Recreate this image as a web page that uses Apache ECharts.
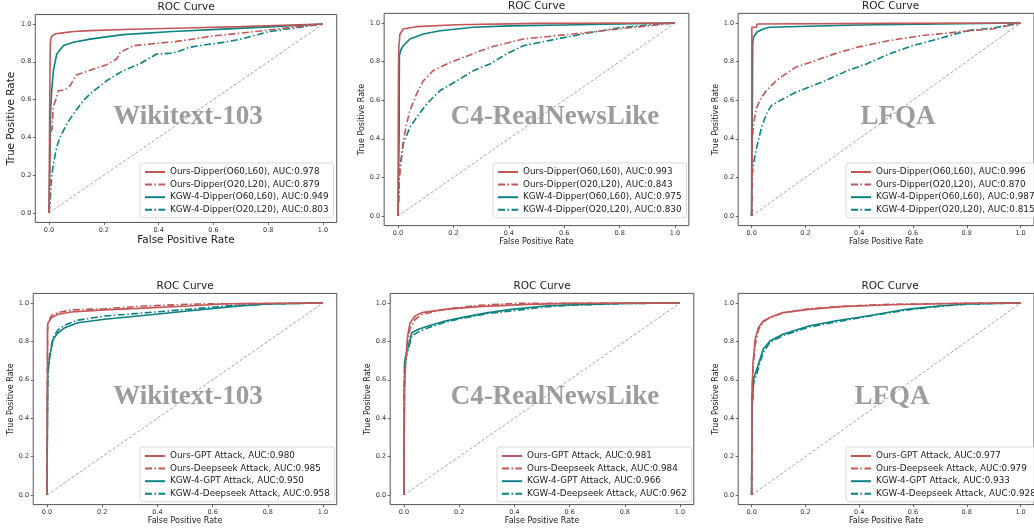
<!DOCTYPE html>
<html><head><meta charset="utf-8">
<script src="https://cdn.jsdelivr.net/npm/echarts@6/dist/echarts.min.js"></script>
<style>html,body{margin:0;padding:0;background:#fff}#c{width:1034px;height:529px}</style>
</head><body><div id="c"></div>
<script>
// ---- data ----
const dipperNames = ['Ours-Dipper(O60,L60)', 'Ours-Dipper(O20,L20)', 'KGW-4-Dipper(O60,L60)', 'KGW-4-Dipper(O20,L20)'];
const attackNames = ['Ours-GPT Attack', 'Ours-Deepseek Attack', 'KGW-4-GPT Attack', 'KGW-4-Deepseek Attack'];
const datasetNames = ['Wikitext-103', 'C4-RealNewsLike', 'LFQA', 'Wikitext-103', 'C4-RealNewsLike', 'LFQA'];
const aucWikiDipper = ['0.978', '0.879', '0.949', '0.803'];
const aucC4Dipper = ['0.993', '0.843', '0.975', '0.830'];
const aucLfqaDipper = ['0.996', '0.870', '0.987', '0.815'];
const aucWikiAttack = ['0.980', '0.985', '0.950', '0.958'];
const aucC4Attack = ['0.981', '0.984', '0.966', '0.962'];
const aucLfqaAttack = ['0.977', '0.979', '0.933', '0.928'];
const xTicks = [0, 0.2, 0.4, 0.6, 0.8, 1.0];
const yTicks = [0, 0.2, 0.4, 0.6, 0.8, 1.0];
const chance = [[0, 0], [1, 1]];

// Panel 1: Wikitext-103, Dipper
const wikiOurs60 = [[0,0],[0.002,0.45],[0.004,0.8],[0.005,0.9],[0.008,0.93],[0.015,0.942],[0.025,0.948],[0.05,0.953],[0.09,0.96],[0.15,0.965],[0.3,0.972],[0.5,0.979],[0.7,0.986],[0.85,0.993],[1,1]];
const wikiOurs20 = [[0,0],[0.003,0.1],[0.004,0.3],[0.005,0.42],[0.012,0.45],[0.015,0.56],[0.025,0.6],[0.034,0.647],[0.058,0.652],[0.077,0.674],[0.1,0.73],[0.15,0.755],[0.21,0.785],[0.247,0.815],[0.26,0.85],[0.308,0.885],[0.393,0.898],[0.45,0.905],[0.515,0.918],[0.6,0.937],[0.7,0.952],[0.8,0.968],[0.9,0.985],[1,1]];
const wikiKgw60 = [[0,0],[0.004,0.35],[0.006,0.55],[0.01,0.647],[0.016,0.753],[0.028,0.84],[0.052,0.885],[0.089,0.903],[0.15,0.92],[0.27,0.944],[0.45,0.96],[0.636,0.973],[0.8,0.985],[1,1]];
const wikiKgw20 = [[0,0],[0.004,0.05],[0.008,0.17],[0.016,0.26],[0.028,0.348],[0.04,0.40],[0.065,0.471],[0.089,0.524],[0.125,0.594],[0.15,0.63],[0.21,0.70],[0.27,0.753],[0.33,0.788],[0.393,0.841],[0.45,0.845],[0.515,0.877],[0.57,0.89],[0.636,0.903],[0.70,0.92],[0.8,0.959],[0.9,0.98],[1,1]];
// Panel 2: C4-RealNewsLike, Dipper
const c4Ours60 = [[0,0],[0.001,0.5],[0.002,0.8],[0.003,0.874],[0.007,0.943],[0.019,0.969],[0.067,0.981],[0.21,0.991],[0.5,0.998],[1,1]];
const c4Ours20 = [[0,0],[0.002,0.08],[0.004,0.183],[0.013,0.304],[0.019,0.39],[0.031,0.477],[0.043,0.546],[0.067,0.632],[0.091,0.70],[0.127,0.753],[0.176,0.788],[0.236,0.822],[0.332,0.874],[0.452,0.917],[0.633,0.943],[0.8,0.97],[0.9,0.985],[1,1]];
const c4Kgw60 = [[0,0],[0.004,0.4],[0.005,0.83],[0.01,0.86],[0.019,0.882],[0.043,0.917],[0.091,0.943],[0.152,0.96],[0.272,0.978],[0.4,0.985],[0.6,0.99],[1,1]];
const c4Kgw20 = [[0,0],[0.003,0.1],[0.005,0.235],[0.019,0.373],[0.043,0.46],[0.067,0.51],[0.103,0.58],[0.152,0.65],[0.212,0.70],[0.272,0.753],[0.332,0.788],[0.392,0.84],[0.452,0.882],[0.572,0.917],[0.693,0.95],[0.8,0.975],[0.9,0.99],[1,1]];
// Panel 3: LFQA, Dipper
const lfqaOurs60 = [[0,0],[0.001,0.978],[0.019,0.978],[0.02,0.995],[0.5,0.998],[1,1]];
const lfqaOurs20 = [[0,0],[0.002,0.2],[0.003,0.39],[0.007,0.477],[0.019,0.563],[0.037,0.615],[0.055,0.65],[0.091,0.70],[0.127,0.736],[0.164,0.771],[0.236,0.805],[0.308,0.84],[0.392,0.874],[0.512,0.909],[0.633,0.935],[0.8,0.958],[0.9,0.97],[1,1]];
const lfqaKgw60 = [[0,0],[0.003,0.6],[0.004,0.891],[0.007,0.926],[0.019,0.952],[0.043,0.969],[0.067,0.978],[0.212,0.983],[0.4,0.99],[0.7,0.995],[1,1]];
const lfqaKgw20 = [[0,0],[0.002,0.1],[0.003,0.218],[0.007,0.27],[0.019,0.356],[0.037,0.46],[0.055,0.528],[0.073,0.572],[0.116,0.606],[0.164,0.641],[0.212,0.667],[0.272,0.70],[0.356,0.753],[0.428,0.788],[0.512,0.84],[0.597,0.882],[0.693,0.917],[0.8,0.96],[0.9,0.975],[1,1]];
// Panel 4: Wikitext-103, attacks
const wikiOursGpt = [[0,0],[0.001,0.3],[0.002,0.88],[0.004,0.897],[0.016,0.923],[0.04,0.941],[0.088,0.953],[0.209,0.964],[0.33,0.972],[0.51,0.984],[0.65,0.996],[1,1]];
const wikiOursDs = [[0,0],[0.001,0.4],[0.002,0.86],[0.005,0.9],[0.016,0.935],[0.04,0.95],[0.088,0.964],[0.209,0.97],[0.35,0.984],[0.55,0.995],[1,1]];
const wikiKgwGpt = [[0,0],[0.002,0.55],[0.003,0.637],[0.01,0.724],[0.022,0.811],[0.04,0.845],[0.064,0.871],[0.112,0.897],[0.209,0.915],[0.33,0.932],[0.51,0.958],[0.632,0.976],[0.7,0.985],[0.8,0.995],[1,1]];
const wikiKgwDs = [[0,0],[0.002,0.5],[0.004,0.64],[0.01,0.73],[0.022,0.82],[0.04,0.86],[0.064,0.885],[0.112,0.911],[0.209,0.932],[0.33,0.946],[0.51,0.967],[0.65,0.985],[0.8,0.995],[1,1]];
// Panel 5: C4-RealNewsLike, attacks
const c4OursGpt = [[0,0],[0.001,0.568],[0.006,0.689],[0.013,0.828],[0.022,0.897],[0.04,0.932],[0.064,0.95],[0.149,0.967],[0.269,0.981],[0.45,0.993],[0.6,0.998],[1,1]];
const c4OursDs = [[0,0],[0.001,0.55],[0.006,0.68],[0.013,0.8],[0.022,0.87],[0.04,0.914],[0.064,0.94],[0.149,0.968],[0.269,0.988],[0.4,0.998],[1,1]];
const c4KgwGpt = [[0,0],[0.002,0.689],[0.006,0.724],[0.016,0.776],[0.028,0.845],[0.052,0.863],[0.088,0.88],[0.149,0.906],[0.209,0.924],[0.305,0.95],[0.39,0.967],[0.511,0.984],[0.6,0.99],[0.8,0.998],[1,1]];
const c4KgwDs = [[0,0],[0.002,0.68],[0.006,0.71],[0.016,0.76],[0.028,0.828],[0.052,0.85],[0.088,0.871],[0.149,0.9],[0.209,0.92],[0.305,0.945],[0.4,0.96],[0.511,0.98],[0.6,0.988],[0.8,0.997],[1,1]];
// Panel 6: LFQA, attacks
const lfqaOursGpt = [[0,0],[0.001,0.516],[0.005,0.689],[0.013,0.811],[0.025,0.871],[0.043,0.906],[0.068,0.924],[0.116,0.95],[0.213,0.967],[0.333,0.981],[0.514,0.991],[0.8,0.999],[1,1]];
const lfqaOursDs = [[0,0],[0.001,0.5],[0.005,0.66],[0.013,0.78],[0.025,0.86],[0.043,0.9],[0.068,0.925],[0.116,0.948],[0.213,0.97],[0.333,0.983],[0.514,0.993],[0.8,0.999],[1,1]];
const lfqaKgwGpt = [[0,0],[0.002,0.464],[0.007,0.603],[0.019,0.655],[0.031,0.707],[0.043,0.759],[0.068,0.802],[0.116,0.837],[0.213,0.88],[0.309,0.906],[0.43,0.932],[0.575,0.967],[0.696,0.984],[0.8,0.995],[1,1]];
const lfqaKgwDs = [[0,0],[0.002,0.45],[0.007,0.58],[0.019,0.63],[0.031,0.69],[0.043,0.74],[0.068,0.795],[0.116,0.83],[0.213,0.875],[0.309,0.9],[0.43,0.93],[0.575,0.963],[0.696,0.982],[0.8,0.994],[1,1]];

const panelCurves = [
  [wikiOurs60, wikiOurs20, wikiKgw60, wikiKgw20],
  [c4Ours60, c4Ours20, c4Kgw60, c4Kgw20],
  [lfqaOurs60, lfqaOurs20, lfqaKgw60, lfqaKgw20],
  [wikiOursGpt, wikiOursDs, wikiKgwGpt, wikiKgwDs],
  [c4OursGpt, c4OursDs, c4KgwGpt, c4KgwDs],
  [lfqaOursGpt, lfqaOursDs, lfqaKgwGpt, lfqaKgwDs]
];
const panelNames = [dipperNames, dipperNames, dipperNames, attackNames, attackNames, attackNames];
const panelAuc = [aucWikiDipper, aucC4Dipper, aucLfqaDipper, aucWikiAttack, aucC4Attack, aucLfqaAttack];

// ---- layout (pixel positions of data range [0,1]) ----
const layout = [
  {x0: 49, x1: 323, yT: 24, yB: 213, axisFont: 10.5, xGap: 10.5, yGap: 13, legL: 140, legT: 163, wmX: 188, wmY: 117},
  {x0: 398, x1: 675, yT: 23, yB: 216, axisFont: 8, xGap: 11, yGap: 13, legL: 493, legT: 163, wmX: 555, wmY: 117},
  {x0: 752, x1: 1029, yT: 23, yB: 216, axisFont: 8, xGap: 11, yGap: 13, legL: 846, legT: 163, wmX: 898, wmY: 117},
  {x0: 47, x1: 323, yT: 303, yB: 495, axisFont: 8, xGap: 12, yGap: 13, legL: 140, legT: 447, wmX: 188, wmY: 397},
  {x0: 404, x1: 680, yT: 303, yB: 495, axisFont: 8, xGap: 12, yGap: 13, legL: 497, legT: 447, wmX: 555, wmY: 397},
  {x0: 752, x1: 1028, yT: 303, yB: 495, axisFont: 8, xGap: 12, yGap: 13, legL: 846, legT: 447, wmX: 892, wmY: 397}
];
const RED = '#c25656', TEAL = '#0b8282';
const FONT = '"DejaVu Sans", sans-serif';
const styles = [
  {color: RED, type: 'solid'},
  {color: RED, type: [7, 2.5, 1.5, 2.5]},
  {color: TEAL, type: 'solid'},
  {color: TEAL, type: [7, 2.5, 1.5, 2.5]}
];

const grid = [], xAxis = [], yAxis = [], series = [], legend = [], graphic = [];
layout.forEach((L, i) => {
  const W = L.x1 - L.x0, H = L.yB - L.yT;
  grid.push({left: L.x0 - 0.05 * W, top: L.yT - 0.05 * H, width: 1.1 * W, height: 1.1 * H,
    show: true, borderColor: '#555', borderWidth: 1, backgroundColor: 'transparent', containLabel: false});
  xAxis.push({type: 'value', gridIndex: i, min: -0.05, max: 1.05, position: 'bottom',
    name: 'False Positive Rate', nameLocation: 'middle', nameGap: L.xGap,
    nameTextStyle: {fontFamily: FONT, fontSize: L.axisFont, color: '#222'},
    axisLine: {show: false, onZero: false}, splitLine: {show: false},
    axisTick: {show: true, length: 2.5, customValues: xTicks, lineStyle: {color: '#444', width: 0.8}},
    axisLabel: {customValues: xTicks, margin: 4, fontFamily: FONT, fontSize: 6.5, color: '#333',
      formatter: v => v.toFixed(1)}});
  yAxis.push({type: 'value', gridIndex: i, min: -0.05, max: 1.05, position: 'left',
    name: 'True Positive Rate', nameLocation: 'middle', nameGap: L.yGap,
    nameTextStyle: {fontFamily: FONT, fontSize: L.axisFont, color: '#222'},
    axisLine: {show: false, onZero: false}, splitLine: {show: false},
    axisTick: {show: true, length: 2.5, customValues: yTicks, lineStyle: {color: '#444', width: 0.8}},
    axisLabel: {customValues: yTicks, margin: 4, fontFamily: FONT, fontSize: 6.5, color: '#333',
      formatter: v => v.toFixed(1)}});
  const names = [];
  panelCurves[i].forEach((d, k) => {
    const nm = panelNames[i][k] + ', AUC:' + panelAuc[i][k];
    names.push(nm);
    series.push({type: 'line', name: nm, xAxisIndex: i, yAxisIndex: i, data: d,
      symbol: 'none', showSymbol: false, silent: true, animation: false, z: 3 + (3 - k),
      lineStyle: {color: styles[k].color, type: styles[k].type, width: 1.6},
      itemStyle: {color: styles[k].color}});
  });
  series.push({type: 'line', name: 'chance' + i, xAxisIndex: i, yAxisIndex: i, data: chance,
    symbol: 'none', silent: true, animation: false, z: 2,
    lineStyle: {color: '#8a8a8a', type: [3, 2], width: 0.8}});
  legend.push({data: names, orient: 'vertical', left: L.legL, top: L.legT,
    itemWidth: 20, itemHeight: 10, itemGap: 2.6, padding: [4, 5, 3, 4],
    backgroundColor: 'rgba(255,255,255,0.85)', borderColor: '#cfcfcf', borderWidth: 0.8, borderRadius: 3,
    selectedMode: false, itemStyle: {opacity: 0},
    textStyle: {fontFamily: FONT, fontSize: 8.8, color: '#222', lineHeight: 10}});
  const cx = L.x0 + W / 2;
  graphic.push({type: 'text', x: cx, y: L.yT - 0.05 * H - 7, z: 10,
    style: {text: 'ROC Curve', font: '10.5px "DejaVu Sans"', fill: '#222', align: 'center', verticalAlign: 'middle', textAlign: 'center', textVerticalAlign: 'middle'}});
  graphic.push({type: 'text', x: L.wmX, y: L.wmY, z: 1,
    style: {text: datasetNames[i], font: 'bold 27px "Liberation Serif"', fill: '#9c9c9c', align: 'center', verticalAlign: 'middle', textAlign: 'center', textVerticalAlign: 'middle'}});
});

const chart = echarts.init(document.getElementById('c'), null, {renderer: 'canvas'});
chart.setOption({animation: false, backgroundColor: '#fff', grid, xAxis, yAxis, series, legend, graphic});
</script></body></html>
